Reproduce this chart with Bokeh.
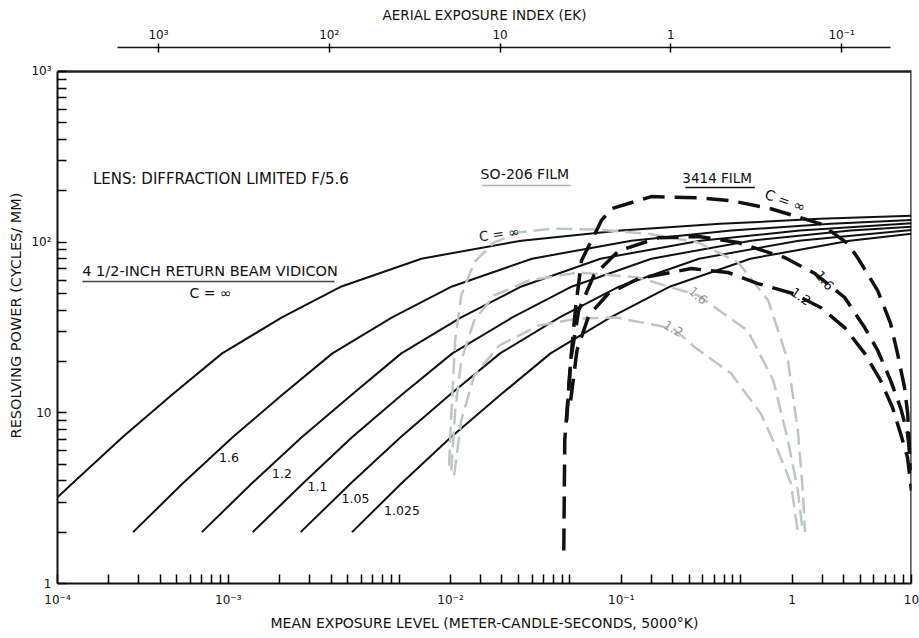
from bokeh.plotting import figure
from bokeh.models import FixedTicker, CustomJSTickFormatter, Range1d, Label, LogScale, LogAxis
from bokeh.embed import file_html
from bokeh.resources import INLINE

FONT = "DejaVu Sans"

# ---------------- data (exposure E in m-c-s, resolving power R in cycles/mm) ----------------
# 4 1/2-inch return beam vidicon, contrast C
E_vid_inf = [1.0e-4, 1.22e-4, 2.4e-4, 4.7e-4, 9.2e-4, 2.06e-3, 4.6e-3, 1.35e-2, 5.2e-2, 0.198, 0.76, 2.9, 10.0]
R_vid_inf = [3.2, 3.85, 7.2, 12.8, 22.3, 36.2, 55.0, 80.0, 102.0, 117.0, 128.0, 137.0, 143.0]
E_vid_16 = [2.77e-4, 5.4e-4, 1.06e-3, 2.08e-3, 4.07e-3, 9.1e-3, 2.04e-2, 6.0e-2, 0.229, 0.88, 3.37, 10.0]
R_vid_16 = [2.0, 3.85, 7.2, 12.8, 22.3, 36.2, 55.0, 80.0, 102.0, 117.0, 128.0, 135.0]
E_vid_12 = [7.0e-4, 1.37e-3, 2.69e-3, 5.3e-3, 1.03e-2, 2.31e-2, 5.2e-2, 0.151, 0.58, 2.22, 10.0]
R_vid_12 = [2.0, 3.85, 7.2, 12.8, 22.3, 36.2, 55.0, 80.0, 102.0, 117.0, 129.0]
E_vid_11 = [1.39e-3, 2.73e-3, 5.3e-3, 1.04e-2, 2.05e-2, 4.6e-2, 0.103, 0.30, 1.15, 4.4, 10.0]
R_vid_11 = [2.0, 3.85, 7.2, 12.8, 22.3, 36.2, 55.0, 80.0, 102.0, 117.0, 123.0]
E_vid_105 = [2.65e-3, 5.2e-3, 1.02e-2, 1.99e-2, 3.9e-2, 8.7e-2, 0.195, 0.57, 2.19, 10.0]
R_vid_105 = [2.0, 3.85, 7.2, 12.8, 22.3, 36.2, 55.0, 80.0, 102.0, 118.0]
E_vid_1025 = [5.3e-3, 1.03e-2, 2.01e-2, 3.94e-2, 7.7e-2, 0.173, 0.387, 1.14, 4.35, 10.0]
R_vid_1025 = [2.0, 3.85, 7.2, 12.8, 22.3, 36.2, 55.0, 80.0, 102.0, 112.0]

# SO-206 film
E_so_inf = [0.0196, 0.0204, 0.0213, 0.0231, 0.0275, 0.0359, 0.050, 0.080, 0.147, 0.288, 0.564, 0.966, 1.45, 1.89, 2.16, 2.31, 2.38]
R_so_inf = [4.9, 11.8, 26.5, 48.7, 76.0, 99.5, 114.0, 120.0, 118.5, 112.0, 99.5, 76.0, 45.5, 20.2, 7.9, 3.5, 2.0]
E_so_16 = [0.0202, 0.0213, 0.0231, 0.0275, 0.0359, 0.0575, 0.1125, 0.252, 0.564, 1.10, 1.55, 1.89, 2.16, 2.31]
R_so_16 = [4.6, 10.3, 20.2, 34.7, 48.7, 59.6, 66.4, 62.1, 48.7, 30.3, 15.5, 6.9, 3.5, 2.0]
E_so_12 = [0.0210, 0.0231, 0.0275, 0.0385, 0.0658, 0.1125, 0.185, 0.404, 0.542, 0.879, 1.31, 1.65, 1.97, 2.16]
R_so_12 = [4.3, 9.0, 16.5, 24.8, 32.5, 35.7, 36.2, 31.2, 24.1, 17.0, 9.9, 6.0, 3.85, 2.0]

# 3414 film
E_k_inf = [0.0921, 0.0933, 0.102, 0.108, 0.117, 0.153, 0.175, 0.30, 0.563, 0.879, 1.50, 2.94, 4.24, 4.84, 6.34, 7.54, 8.28, 9.1, 9.5, 9.87]
R_k_inf = [1.56, 6.9, 22.3, 41.4, 78.0, 134.0, 157.0, 185.0, 182.0, 175.0, 157.0, 128.0, 98.0, 81.0, 52.0, 33.4, 22.3, 14.1, 9.9, 4.6]
E_k_16 = [0.0957, 0.101, 0.1125, 0.138, 0.193, 0.330, 0.564, 0.966, 1.82, 2.72, 4.06, 5.32, 6.34, 7.54, 8.63, 9.48, 10.0]
R_k_16 = [9.0, 20.2, 39.7, 63.7, 89.0, 106.0, 108.0, 99.5, 81.0, 65.5, 47.4, 31.6, 23.2, 15.5, 10.7, 7.6, 4.6]
E_k_12 = [0.101, 0.110, 0.129, 0.168, 0.252, 0.514, 0.843, 1.26, 2.02, 2.94, 4.06, 5.32, 6.59, 7.75, 8.63, 9.48, 10.0]
R_k_12 = [11.8, 23.2, 37.2, 50.0, 61.2, 70.0, 66.4, 57.2, 50.0, 41.4, 31.6, 22.3, 15.5, 10.7, 7.56, 5.47, 3.5]

# axes extents and tick labels
X_MIN, X_MAX = 1e-4, 10.0
Y_MIN, Y_MAX = 1.0, 1000.0
Y_TOP = 1382.0          # head-room above the plot box that carries the EK scale
EK_CONST = 0.39         # aerial exposure index EK ~ 0.39 / E
x_major = [1e-4, 1e-3, 2e-2, 2e-1, 2.0, 10.0]
x_major_labels = ["10⁻⁴", "10⁻³", "10⁻²", "10⁻¹", "1", "10"]
y_major = [1.0, 10.0, 100.0, 1000.0]
y_major_labels = ["1", "10", "10²", "10³"]
ek_ticks = [1000.0, 100.0, 10.0, 1.0, 0.1]
ek_labels = ["10³", "10²", "10", "1", "10⁻¹"]

# text annotations: (x, y, text, size, angle_deg, color)
notes = [
    (9.35e-4, 236.0, "LENS:  DIFFRACTION LIMITED F/5.6", "15px", 0, "#111111"),
    (7.82e-4, 68.2, "4 1/2-INCH RETURN BEAM VIDICON", "14.5px", 0, "#111111"),
    (8.36e-4, 50.7, "C  =  ∞", "14px", 0, "#111111"),
    (0.0545, 252.0, "SO-206 FILM", "14px", 0, "#111111"),
    (0.728, 239.0, "3414 FILM", "13.5px", 0, "#111111"),
    (1.01e-3, 5.47, "1.6", "12.5px", 0, "#111111"),
    (2.06e-3, 4.41, "1.2", "12.5px", 0, "#111111"),
    (3.33e-3, 3.70, "1.1", "12.5px", 0, "#111111"),
    (5.55e-3, 3.15, "1.05", "12.5px", 0, "#111111"),
    (1.04e-2, 2.68, "1.025", "12.5px", 0, "#111111"),
    (0.0385, 112.0, "C = ∞", "13.5px", 8, "#222222"),
    (0.564, 48.7, "1.6", "12.5px", -40, "#8a9696"),
    (0.404, 31.2, "1.2", "12.5px", -30, "#8a9696"),
    (1.82, 175.0, "C = ∞", "14px", -20, "#111111"),
    (3.10, 59.6, "1.6", "13px", -50, "#111111"),
    (2.25, 48.0, "1.2", "13px", -35, "#111111"),
]
# underlines beneath the group titles
ul_x0 = [1.40e-4, 0.0305, 0.474]
ul_x1 = [4.19e-3, 0.101, 1.21]
ul_y = [58.8, 215.0, 209.0]
ul_color = ["#444444", "#a9b4b4", "#111111"]


def fmt(vals, labs):
    return CustomJSTickFormatter(args=dict(vals=vals, labs=labs), code="""
        for (let i = 0; i < vals.length; i++) {
            if (Math.abs(Math.log10(tick / vals[i])) < 1e-6) { return labs[i] }
        }
        return ""
    """)


p = figure(frame_width=854, frame_height=536, x_axis_type="log", y_axis_type="log",
           x_range=Range1d(X_MIN, X_MAX), y_range=Range1d(Y_MIN, Y_TOP),
           extra_x_ranges={"ek": Range1d(EK_CONST / X_MIN, EK_CONST / X_MAX)},
           extra_x_scales={"ek": LogScale()},
           output_backend="svg", toolbar_location=None,
           min_border_left=57, min_border_right=8, min_border_top=47, min_border_bottom=54)
p.grid.visible = False
p.outline_line_color = None
p.background_fill_color = "white"
p.border_fill_color = "white"

# ---- bottom / left axes (grab them before adding the top one) ----
xa = p.below[0]
ya = p.left[0]

x_minor = [m * 10.0 ** d for d in range(-4, 1) for m in range(1, 10)] + [10.0]
x_minor = [t for t in x_minor if all(abs(t / v - 1) > 1e-6 for v in x_major)]
y_minor = [m * 10.0 ** d for d in range(0, 3) for m in range(2, 10)]

xa.ticker = FixedTicker(ticks=x_major, minor_ticks=x_minor)
xa.formatter = fmt(x_major, x_major_labels)
ya.ticker = FixedTicker(ticks=y_major, minor_ticks=y_minor)
ya.formatter = fmt(y_major, y_major_labels)
ya.bounds = (Y_MIN, Y_MAX)
for a in (xa, ya):
    a.major_tick_in = 9
    a.major_tick_out = 0
    a.minor_tick_in = 9
    a.minor_tick_out = 0
    a.major_tick_line_width = 1.5
    a.minor_tick_line_width = 1.5
    a.axis_line_width = 2
    a.axis_line_color = "#111111"
    a.major_label_text_font = FONT
    a.major_label_text_font_size = "12px"
    a.major_label_text_color = "#111111"
    a.axis_label_text_font = FONT
    a.axis_label_text_font_style = "normal"
    a.axis_label_text_color = "#111111"
xa.major_label_standoff = 9
xa.axis_label = "MEAN EXPOSURE LEVEL (METER-CANDLE-SECONDS, 5000°K)"
xa.axis_label_text_font_size = "14px"
xa.axis_label_standoff = 5
ya.major_label_standoff = 6
ya.axis_label = "RESOLVING POWER (CYCLES/ MM)"
ya.axis_label_text_font_size = "14.5px"
ya.axis_label_standoff = 4

# ---- top: aerial exposure index ----
ek = LogAxis(x_range_name="ek")
ek.ticker = FixedTicker(ticks=ek_ticks, minor_ticks=[])
ek.formatter = fmt(ek_ticks, ek_labels)
ek.bounds = (0.052, 1740.0)
ek.major_tick_in = 5
ek.major_tick_out = 4
ek.minor_tick_in = 0
ek.minor_tick_out = 0
ek.major_tick_line_width = 1.5
ek.axis_line_width = 1.5
ek.axis_line_color = "#111111"
ek.major_label_standoff = 2
ek.major_label_text_font = FONT
ek.major_label_text_font_size = "12px"
ek.major_label_text_color = "#111111"
ek.axis_label = "AERIAL EXPOSURE INDEX (EK)"
ek.axis_label_text_font = FONT
ek.axis_label_text_font_size = "13.5px"
ek.axis_label_text_font_style = "normal"
ek.axis_label_text_color = "#111111"
ek.axis_label_standoff = 2
p.add_layout(ek, "above")

# box edges (top and right) of the plot area
p.line([X_MIN, X_MAX, X_MAX], [Y_MAX, Y_MAX, Y_MIN], line_color="#222222", line_width=2.5)

# vidicon (solid)
for E, R in [(E_vid_inf, R_vid_inf), (E_vid_16, R_vid_16), (E_vid_12, R_vid_12),
             (E_vid_11, R_vid_11), (E_vid_105, R_vid_105), (E_vid_1025, R_vid_1025)]:
    p.line(E, R, line_color="#111111", line_width=2)

# SO-206 (light grey dashed)
for E, R in [(E_so_inf, R_so_inf), (E_so_16, R_so_16), (E_so_12, R_so_12)]:
    p.line(E, R, line_color="#bcc6c6", line_width=2.5, line_dash="16 7")

# 3414 (heavy black dashed)
for E, R in [(E_k_inf, R_k_inf), (E_k_16, R_k_16), (E_k_12, R_k_12)]:
    p.line(E, R, line_color="#111111", line_width=3.5, line_dash="22 10")

p.segment(x0=ul_x0, y0=ul_y, x1=ul_x1, y1=ul_y, line_color=ul_color, line_width=1.5)

for x, y, t, s, ang, c in notes:
    p.add_layout(Label(x=x, y=y, text=t, text_font=FONT, text_font_size=s,
                       text_color=c, text_align="center", text_baseline="middle",
                       angle=ang, angle_units="deg"))

open("out.html", "w").write(file_html(p, INLINE))
